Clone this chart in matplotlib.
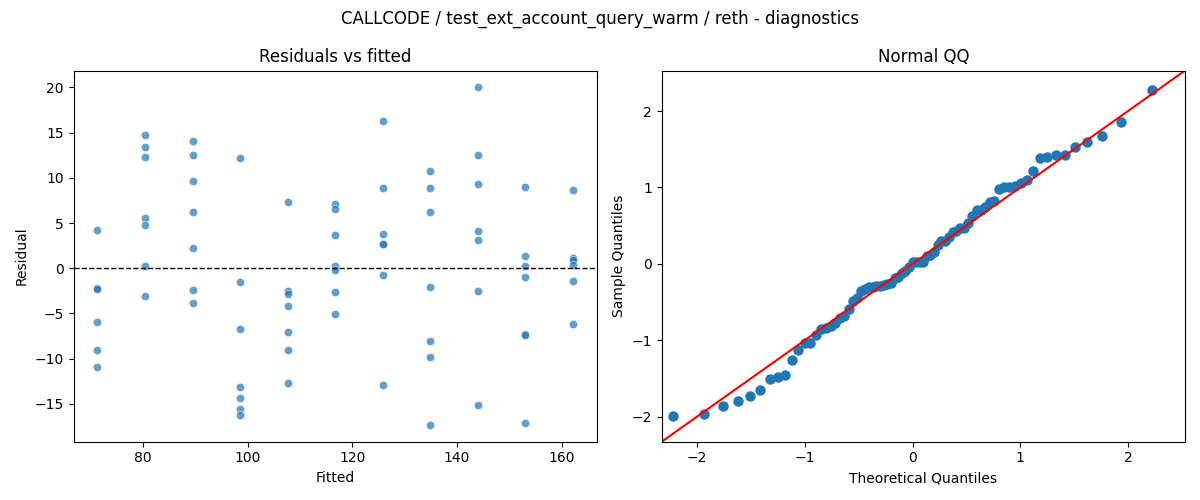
import numpy as np
import matplotlib
matplotlib.use("Agg")
import matplotlib.pyplot as plt
import seaborn as sns
from statistics import NormalDist

TITLE = "CALLCODE / test_ext_account_query_warm / reth - diagnostics"

# fitted levels and the residuals at each level
fitted_levels = [71.3, 80.4, 89.5, 98.6, 107.7, 116.7, 125.8, 134.9, 144.0, 153.1, 162.2]
residuals_by_level = [
    [4.24, -2.18, -2.29, -5.93, -9.02, -10.87],
    [14.77, 13.41, 12.30, 5.56, 4.78, 0.30, -3.05],
    [14.08, 12.52, 9.65, 6.23, 2.25, -2.40, -3.83],
    [12.20, -1.51, -6.70, -13.08, -14.37, -15.62, -16.22],
    [7.33, -2.47, -2.80, -4.17, -7.03, -9.02, -12.67],
    [7.11, 6.56, 3.68, 0.30, -0.22, -2.62, -5.04],
    [16.33, 8.88, 3.83, 2.73, 2.67, -0.70, -12.86],
    [10.75, 8.88, 6.23, -2.06, -8.03, -9.76, -17.32],
    [20.00, 12.52, 9.32, 4.13, 3.13, -2.51, -15.07],
    [9.02, 1.40, 0.30, -0.96, -7.26, -7.36, -17.10],
    [8.69, 1.10, 0.93, 0.33, -1.40, -6.16],
]

fitted = []
resid = []
for lvl, vals in zip(fitted_levels, residuals_by_level):
    for v in vals:
        fitted.append(lvl)
        resid.append(v)
fitted = np.array(fitted)
resid = np.array(resid)

# standardised residuals against normal quantiles
z = np.sort((resid - resid.mean()) / resid.std())
n = len(z)
theo = np.array([NormalDist().inv_cdf(i / (n + 1)) for i in range(1, n + 1)])

fig, (ax1, ax2) = plt.subplots(1, 2, figsize=(12, 5), dpi=100)
fig.suptitle(TITLE)

sns.scatterplot(x=fitted, y=resid, ax=ax1, alpha=0.7)
ax1.axhline(0, color="black", linestyle="--", linewidth=1)
ax1.set_title("Residuals vs fitted")
ax1.set_xlabel("Fitted")
ax1.set_ylabel("Residual")

ax2.plot(theo, z, "o", color="C0", markersize=6.5)
lo, hi = -2.33, 2.53
ax2.plot([lo, hi], [lo, hi], color="red")
ax2.set_xlim(lo, hi)
ax2.set_ylim(lo, hi)
ax2.set_title("Normal QQ")
ax2.set_xlabel("Theoretical Quantiles")
ax2.set_ylabel("Sample Quantiles")

fig.tight_layout()
fig.savefig("out.png")
